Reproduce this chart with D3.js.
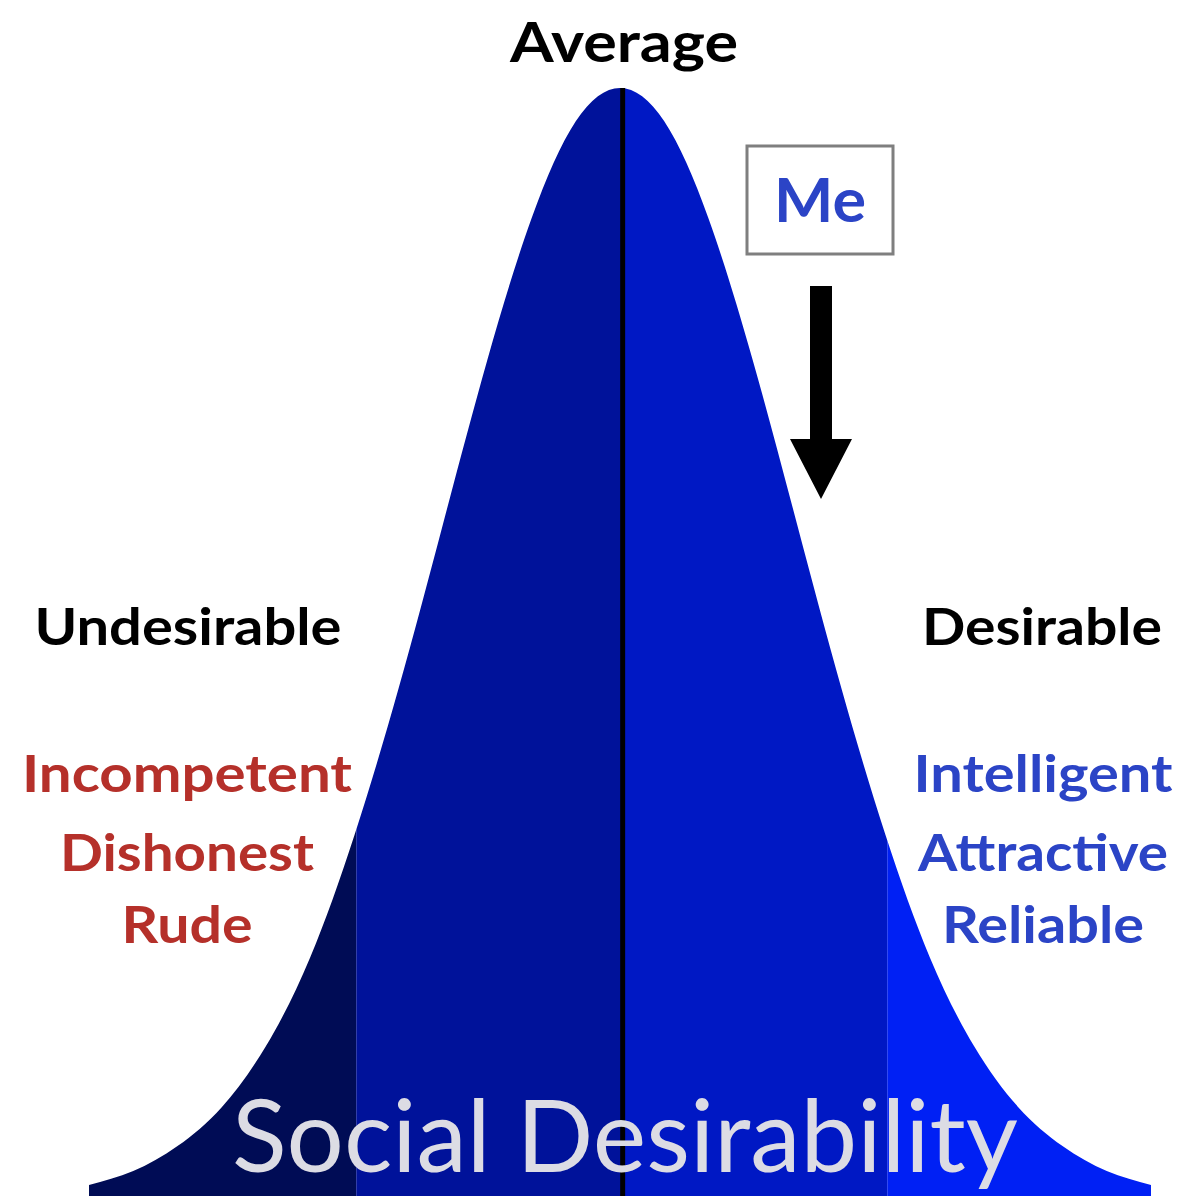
<!DOCTYPE html>
<html>
<head>
<meta charset="utf-8">
<script src="https://cdn.jsdelivr.net/npm/d3@7"></script>
<style>
  body { margin: 0; background: #fff; }
  svg { display: block; font-family: Lato, "Open Sans", sans-serif; }
</style>
</head>
<body>
<div id="chart"></div>
<script>
// valeurs (x en écarts-types, hauteur de la courbe)
const scores = [-3, -2.75, -2.5, -2.25, -2, -1.75, -1.5, -1.25, -1, -0.75, -0.5, -0.25, 0,
                0.25, 0.5, 0.75, 1, 1.25, 1.5, 1.75, 2, 2.25, 2.5, 2.75, 3];
const heights = [0.004, 0.009, 0.018, 0.032, 0.054, 0.086, 0.130, 0.183, 0.242, 0.301, 0.352, 0.387, 0.399,
                 0.387, 0.352, 0.301, 0.242, 0.183, 0.130, 0.086, 0.054, 0.032, 0.018, 0.009, 0.004];

// zones de couleur (bornes en écarts-types)
const bandStarts = [-3.6, -1.49, 0, 1.51];
const bandEnds = [-1.49, 0, 1.51, 3.6];
const bandColors = ['#000c55', '#00129a', '#0018c4', '#0020f4'];

const sideLabels = ['Undesirable', 'Desirable'];
const badTraits = ['Incompetent', 'Dishonest', 'Rude'];
const goodTraits = ['Intelligent', 'Attractive', 'Reliable'];

const width = 1184, height = 1196;
const points = scores.map((s, i) => ({ x: s, y: heights[i] }));

const svg = d3.select('#chart')
  .append('svg')
  .attr('width', width)
  .attr('height', height);

const x = d3.scaleLinear().domain([-3.5, 3.5]).range([620 - 3.5 * 177, 620 + 3.5 * 177]);
const y = d3.scaleLinear().domain([0, 0.399]).range([1196, 88]);

const area = d3.area()
  .x(d => x(d.x))
  .y0(y(0))
  .y1(d => y(d.y))
  .curve(d3.curveNatural);

// la courbe sert de masque pour les bandes
svg.append('clipPath')
  .attr('id', 'bell')
  .append('path')
  .attr('d', area(points));

svg.append('g')
  .attr('clip-path', 'url(#bell)')
  .selectAll('rect')
  .data(bandStarts)
  .enter()
  .append('rect')
  .attr('x', d => x(d))
  .attr('width', (d, i) => x(bandEnds[i]) - x(d))
  .attr('y', 0)
  .attr('height', height)
  .attr('fill', (d, i) => bandColors[i]);

// ligne de la moyenne
svg.append('line')
  .attr('x1', x(0.015))
  .attr('x2', x(0.015))
  .attr('y1', y(0.399))
  .attr('y2', height)
  .attr('stroke', '#000')
  .attr('stroke-width', 5);

function label(txt, cx, base, size, len, color, weight) {
  svg.append('text')
    .attr('x', cx)
    .attr('y', base)
    .attr('text-anchor', 'middle')
    .attr('font-size', size)
    .attr('font-weight', weight || 'bold')
    .attr('fill', color)
    .attr('textLength', len)
    .attr('lengthAdjust', 'spacingAndGlyphs')
    .text(txt);
}

label('Average', 624, 62, 56, 228, '#000');

// boite "Me" + fleche
svg.append('rect')
  .attr('x', 747).attr('y', 146)
  .attr('width', 146).attr('height', 108)
  .attr('fill', '#fff')
  .attr('stroke', '#7f7f7f')
  .attr('stroke-width', 3);
label('Me', 820, 222, 62, 92, '#2b44c6');

svg.append('path')
  .attr('d', 'M810,286 L832,286 L832,439 L852,439 L821,499 L790,439 L810,439 Z')
  .attr('fill', '#000');

label(sideLabels[0], 188, 645, 52, 307, '#000');
label(sideLabels[1], 1042, 645, 52, 240, '#000');

const badWidths = [330, 254, 131];
const goodWidths = [259, 250, 202];
const rowBase = [792, 871, 943];

badTraits.forEach((t, i) => label(t, 187, rowBase[i], 52, badWidths[i], '#b5302a'));
goodTraits.forEach((t, i) => label(t, 1043, rowBase[i], 52, goodWidths[i], '#2b44c6'));

label('Social Desirability', 625, 1172, 100, 786, '#dcdce4', 'normal');
</script>
</body>
</html>
